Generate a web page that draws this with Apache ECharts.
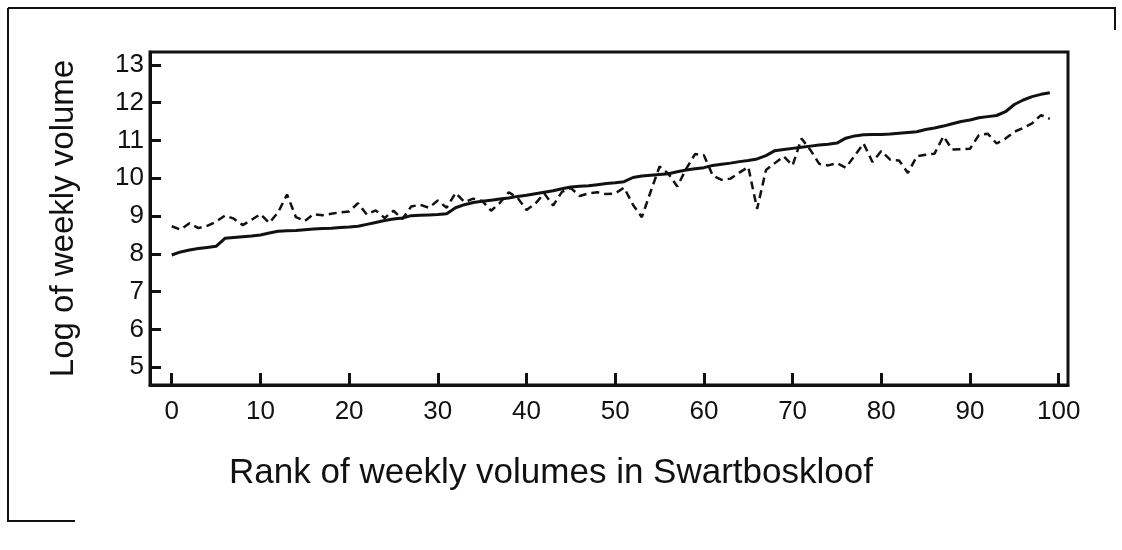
<!DOCTYPE html>
<html>
<head>
<meta charset="utf-8">
<script src="https://cdn.jsdelivr.net/npm/echarts@6/dist/echarts.min.js"></script>
<style>
  html, body { margin: 0; padding: 0; background: #fff; }
  #chart { width: 1122px; height: 550px; }
</style>
</head>
<body>
<div id="chart"></div>
<script>
// rank 0..99
const ranks = Array.from({ length: 100 }, (_, i) => i);

// solid line (observed, sorted)
const observed = [
  7.97, 8.05, 8.10, 8.14, 8.17, 8.20, 8.41, 8.43, 8.45, 8.47,
  8.50, 8.55, 8.60, 8.61, 8.62, 8.64, 8.66, 8.67, 8.68, 8.70,
  8.71, 8.73, 8.78, 8.83, 8.88, 8.92, 8.95, 9.01, 9.02, 9.03,
  9.04, 9.06, 9.22, 9.30, 9.36, 9.39, 9.42, 9.45, 9.48, 9.52,
  9.55, 9.59, 9.63, 9.67, 9.72, 9.77, 9.79, 9.80, 9.83, 9.86,
  9.88, 9.91, 10.02, 10.06, 10.08, 10.10, 10.12, 10.17, 10.22, 10.25,
  10.28, 10.34, 10.37, 10.40, 10.44, 10.47, 10.51, 10.60, 10.73, 10.76,
  10.79, 10.82, 10.85, 10.88, 10.90, 10.93, 11.06, 11.12, 11.15, 11.16,
  11.16, 11.17, 11.19, 11.21, 11.23, 11.29, 11.33, 11.38, 11.44, 11.50,
  11.54, 11.60, 11.63, 11.66, 11.76, 11.95, 12.07, 12.16, 12.22, 12.26
];

// dashed line
const simulated = [
  8.73, 8.64, 8.81, 8.68, 8.74, 8.85, 9.01, 8.93, 8.76, 8.90,
  9.05, 8.82, 9.10, 9.57, 8.97, 8.87, 9.05, 9.02, 9.06, 9.10,
  9.12, 9.34, 9.04, 9.15, 8.95, 9.14, 8.92, 9.25, 9.30, 9.22,
  9.41, 9.22, 9.61, 9.37, 9.46, 9.40, 9.14, 9.35, 9.63, 9.48,
  9.16, 9.33, 9.60, 9.28, 9.64, 9.74, 9.53, 9.60, 9.63, 9.58,
  9.60, 9.75, 9.30, 8.97, 9.65, 10.31, 10.12, 9.78, 10.25, 10.64,
  10.61, 10.07, 9.96, 9.99, 10.15, 10.30, 9.19, 10.22, 10.40, 10.58,
  10.34, 11.05, 10.75, 10.38, 10.34, 10.40, 10.28, 10.60, 10.92, 10.43,
  10.72, 10.49, 10.47, 10.14, 10.58, 10.62, 10.65, 11.11, 10.76, 10.77,
  10.78, 11.14, 11.18, 10.92, 11.05, 11.23, 11.33, 11.45, 11.67, 11.57
];

const xTicks = [0, 10, 20, 30, 40, 50, 60, 70, 80, 90, 100];
const yTicks = [5, 6, 7, 8, 9, 10, 11, 12, 13];

const chart = echarts.init(document.getElementById('chart'));

const font = 'Liberation Sans, Arial, sans-serif';

chart.setOption({
  backgroundColor: '#fff',
  animation: false,
  grid: {
    left: 150, top: 52, right: 54, bottom: 165,
    show: true, borderColor: '#111', borderWidth: 3, backgroundColor: 'transparent'
  },
  xAxis: {
    type: 'value',
    min: -2.45,
    max: 101.05,
    axisLine: { onZero: false, lineStyle: { color: '#111', width: 3 } },
    axisTick: { inside: true, length: 12, lineStyle: { color: '#111', width: 3 }, customValues: xTicks },
    axisLabel: { color: '#111', fontSize: 26, fontFamily: font, margin: 14, customValues: xTicks },
    splitLine: { show: false }
  },
  yAxis: {
    type: 'value',
    min: 4.53,
    max: 13.34,
    name: 'Log of weekly volume',
    nameLocation: 'middle',
    nameGap: 70,
    nameTextStyle: { color: '#111', fontSize: 33, fontFamily: font },
    axisLine: { show: true, onZero: false, lineStyle: { color: '#111', width: 3 } },
    axisTick: { show: true, inside: true, length: 11, lineStyle: { color: '#111', width: 3 }, customValues: yTicks },
    axisLabel: { color: '#111', fontSize: 26, fontFamily: font, margin: 6, customValues: yTicks },
    splitLine: { show: false }
  },
  graphic: [
    {
      type: 'text', x: 551, y: 473,
      style: {
        text: 'Rank of weekly volumes in Swartboskloof',
        fill: '#111', font: '35px ' + font,
        textAlign: 'center', textVerticalAlign: 'middle'
      }
    },
    // outer frame of the scanned figure
    { type: 'line', shape: { x1: 8, y1: 8, x2: 1116, y2: 8 }, style: { stroke: '#111', lineWidth: 2 } },
    { type: 'line', shape: { x1: 8, y1: 8, x2: 8, y2: 522 }, style: { stroke: '#111', lineWidth: 2 } },
    { type: 'line', shape: { x1: 8, y1: 521, x2: 75, y2: 521 }, style: { stroke: '#111', lineWidth: 2 } },
    { type: 'line', shape: { x1: 1115, y1: 8, x2: 1115, y2: 30 }, style: { stroke: '#111', lineWidth: 2 } }
  ],
  series: [
    {
      name: 'observed',
      type: 'line',
      data: ranks.map((r, i) => [r, observed[i]]),
      showSymbol: false,
      lineStyle: { color: '#111', width: 3, type: 'solid' }
    },
    {
      name: 'simulated',
      type: 'line',
      data: ranks.map((r, i) => [r, simulated[i]]),
      showSymbol: false,
      lineStyle: { color: '#111', width: 2.5, type: [8, 5] }
    }
  ]
});
</script>
</body>
</html>
